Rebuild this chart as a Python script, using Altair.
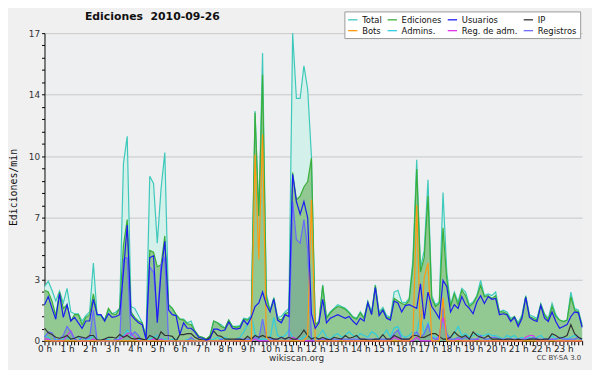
import altair as alt
import pandas as pd

# 10-minute samples, 144 per series (00:00 .. 23:50)
total = [
    3.0, 3.3, 2.8, 2.2, 2.75, 2.1, 2.9, 1.6, 1.5, 1.5, 1.1, 1.4,
    1.6, 4.3, 1.4, 1.4, 1.2, 1.7, 1.5, 1.6, 1.8, 9.8, 11.3, 1.9,
    1.8, 1.4, 1.0, 0.2, 9.1, 8.7, 5.4, 8.4, 10.4, 2.0, 1.8, 1.45,
    1.2, 1.2, 1.0, 1.1, 0.55, 0.27, 0.2, 0.1, 0.27, 1.1, 1.0, 0.9,
    0.7, 1.15, 0.8, 0.8, 0.85, 1.25, 1.2, 1.4, 12.7, 6.9, 15.9, 2.6,
    1.7, 2.4, 1.3, 1.35, 1.6, 1.8, 17.0, 13.4, 13.4, 15.2, 13.9, 10.2,
    0.9, 1.1, 3.1, 1.3, 1.6, 1.8, 2.0, 1.9, 1.8, 1.6, 1.35, 1.25,
    1.6, 1.3, 2.2, 1.6, 3.1, 1.6, 1.85, 1.4, 1.3, 2.7, 2.8, 2.15,
    2.1, 2.35, 4.5, 10.0, 4.0, 5.0, 8.9, 2.5, 2.0, 2.15, 8.2, 3.8,
    2.0, 2.7, 2.15, 2.9, 2.7, 2.0, 2.15, 2.5, 3.35, 2.5, 2.6, 2.5,
    2.7, 1.6, 1.7, 1.6, 1.25, 1.35, 1.0, 1.45, 2.5, 1.45, 1.35, 1.25,
    2.07, 1.5, 1.25, 2.07, 1.45, 1.15, 1.07, 1.15, 2.7, 1.8, 1.7, 0.9,
]
ediciones = [
    2.8, 2.7, 2.2, 1.4, 2.7, 1.8, 2.0, 1.1, 1.45, 1.45, 0.9, 1.3,
    1.45, 2.6, 1.45, 1.45, 1.1, 1.8, 1.5, 1.45, 1.8, 5.3, 6.7, 1.6,
    1.3, 1.1, 1.0, 0.2, 5.0, 4.9, 4.1, 4.2, 5.8, 2.0, 1.8, 1.45,
    1.2, 1.15, 0.95, 0.9, 0.55, 0.27, 0.2, 0.1, 0.27, 1.1, 1.0, 0.8,
    0.7, 1.15, 0.8, 0.75, 0.8, 1.2, 1.15, 1.35, 12.6, 6.9, 14.7, 2.4,
    1.65, 2.35, 1.25, 1.15, 1.5, 1.6, 9.3, 7.8, 8.0, 8.5, 8.8, 10.1,
    0.9, 1.05, 3.05, 1.25, 1.55, 1.75, 1.9, 1.85, 1.75, 1.55, 1.3, 1.2,
    1.55, 1.25, 2.15, 1.5, 3.05, 1.5, 1.75, 1.3, 1.25, 2.35, 2.2, 2.07,
    2.0, 2.25, 4.2, 9.5, 3.8, 4.6, 8.0, 2.35, 1.9, 2.07, 6.25, 3.4,
    1.9, 2.6, 2.0, 2.8, 2.5, 1.9, 2.07, 2.45, 3.07, 2.45, 2.5, 2.35,
    2.5, 1.6, 1.6, 1.5, 1.15, 1.35, 0.9, 1.35, 2.45, 1.35, 1.25, 1.15,
    2.0, 1.45, 1.15, 1.9, 1.35, 1.15, 1.07, 1.15, 2.45, 1.7, 1.6, 0.8,
]
usuarios = [
    2.0, 2.45, 1.8, 1.2, 2.6, 1.3, 2.0, 1.1, 1.3, 1.0, 0.7, 1.1,
    1.1, 2.3, 1.45, 1.45, 1.1, 1.5, 1.3, 1.35, 1.45, 3.8, 6.4, 1.45,
    1.2, 1.0, 0.9, 0.1, 4.6, 4.7, 1.0, 3.8, 5.5, 1.7, 1.45, 1.4,
    0.35, 1.0, 0.7, 0.7, 0.5, 0.2, 0.15, 0.05, 0.1, 0.65, 0.65, 0.55,
    0.6, 1.05, 0.7, 0.65, 0.7, 1.15, 0.9, 1.3, 1.9, 2.1, 2.7, 2.0,
    1.6, 2.3, 1.15, 1.0, 1.45, 1.35, 9.2, 7.7, 7.0, 7.7, 6.8, 1.5,
    0.7, 1.0, 2.3, 1.0, 1.25, 1.35, 1.45, 1.35, 1.25, 1.35, 1.1, 0.9,
    1.25, 1.1, 2.1, 1.45, 2.95, 1.4, 1.7, 1.25, 1.15, 2.2, 2.1, 1.6,
    1.95, 2.0, 1.9, 1.8, 3.15, 1.2, 2.7, 1.9, 1.6, 1.25, 3.35, 3.0,
    1.6, 2.0, 1.8, 2.45, 2.0, 1.8, 1.5, 2.15, 2.5, 2.07, 2.45, 2.3,
    2.35, 1.45, 1.5, 1.45, 1.07, 1.3, 0.8, 1.25, 2.4, 1.3, 1.15, 1.07,
    1.95, 1.25, 1.07, 1.6, 1.07, 0.7, 0.8, 0.9, 1.35, 1.6, 1.55, 0.75,
]
ip = [
    0.7, 0.45, 0.35, 0.2, 0.15, 0.2, 0.3, 0.1, 0.15, 0.25, 0.2, 0.15,
    0.3, 0.3, 0.05, 0.05, 0.1, 0.2, 0.2, 0.15, 0.35, 0.2, 0.3, 0.15,
    0.1, 0.15, 0.1, 0.05, 0.3, 0.2, 0.05, 0.5, 0.3, 0.3, 0.25, 0.0,
    0.35, 0.35, 0.4, 0.4, 0.2, 0.1, 0.05, 0.05, 0.2, 0.55, 0.3, 0.25,
    0.1, 0.1, 0.1, 0.1, 0.1, 0.05, 0.25, 0.1, 0.3, 0.2, 0.3, 0.2,
    0.2, 0.1, 0.1, 0.2, 0.1, 0.2, 0.1, 0.1, 0.3, 0.6, 0.3, 0.1,
    0.2, 0.1, 0.2, 0.1, 0.05, 0.2, 0.15, 0.1, 0.3, 0.15, 0.2, 0.3,
    0.1, 0.1, 0.05, 0.05, 0.1, 0.1, 0.35, 0.1, 0.1, 0.3, 0.2, 0.1,
    0.1, 0.1, 0.3, 0.3, 0.2, 0.2, 0.3, 0.4, 0.4, 0.25, 0.1, 0.1,
    0.2, 0.5, 0.3, 0.2, 0.3, 0.1, 0.5, 0.3, 0.2, 0.15, 0.3, 0.1,
    0.1, 0.1, 0.05, 0.1, 0.1, 0.05, 0.1, 0.05, 0.05, 0.1, 0.1, 0.1,
    0.05, 0.1, 0.1, 0.4, 0.3, 0.15, 0.2, 0.3, 0.9, 0.4, 0.2, 0.1,
]
bots = [
    0, 0, 0, 0, 0, 0, 0, 0, 0, 0, 0, 0,
    0, 0, 0, 0, 0, 0, 0, 0, 0, 0, 0, 0,
    0, 0, 0, 0, 0, 0, 0, 0, 0, 0, 0, 0,
    0, 0, 0, 0, 0, 0, 0, 0, 0, 0, 0, 0,
    0, 0, 0, 0, 0, 0, 0, 0, 10.3, 4.5, 11.4, 0.2,
    0, 0, 0, 0, 0, 0, 0, 0, 0, 0, 0.3, 7.8,
    0, 0, 0, 0, 0, 0, 0, 0, 0, 0, 0, 0,
    0, 0, 0, 0, 0, 0, 0, 0, 0, 0, 0, 0,
    0, 0, 0.2, 7.5, 0.2, 3.5, 4.3, 0, 0, 0, 2.4, 0,
    0, 0, 0, 0, 0, 0, 0, 0, 0, 0, 0, 0,
    0, 0, 0, 0, 0, 0, 0, 0, 0, 0, 0, 0,
    0, 0, 0, 0, 0, 0, 0, 0, 0, 0, 0, 0,
]
admins = [
    0.3, 0.2, 0.0, 0.1, 0.0, 0.1, 0.2, 0.1, 0.2, 0.2, 0.0, 0.1,
    0.1, 0.3, 0.1, 0.0, 0.0, 0.1, 0.0, 0.0, 0.2, 0.3, 0.6, 0.3,
    0.2, 0.1, 0.0, 0.0, 0.1, 0.2, 0.3, 0.1, 0.1, 0.0, 0.1, 0.1,
    0.0, 0.0, 0.1, 0.0, 0.0, 0.0, 0.1, 0.0, 0.0, 0.1, 0.2, 0.1,
    0.2, 0.1, 0.0, 0.1, 0.2, 0.5, 0.9, 1.4, 0.4, 0.1, 0.1, 0.1,
    0.1, 1.3, 0.3, 0.2, 0.3, 0.6, 0.2, 0.1, 0.1, 0.2, 0.3, 0.2,
    0.1, 0.3, 0.6, 0.2, 0.1, 0.3, 0.4, 0.2, 0.3, 0.5, 0.3, 0.2,
    0.4, 0.3, 0.2, 0.5, 0.4, 0.1, 0.3, 0.6, 0.2, 0.7, 0.8, 0.3,
    0.2, 0.3, 0.5, 0.4, 1.5, 0.4, 1.0, 0.3, 0.2, 0.2, 1.2, 0.3,
    0.2, 0.4, 0.8, 0.3, 0.4, 0.2, 0.3, 0.4, 0.3, 0.3, 0.4, 0.3,
    0.3, 0.2, 0.1, 0.3, 0.2, 0.3, 0.1, 0.2, 0.1, 0.2, 0.1, 0.2,
    0.3, 0.1, 0.1, 0.3, 0.1, 0.2, 0.2, 0.1, 0.2, 0.3, 0.2, 0.1,
]
reg_adm = [
    0.1, 0.1, 0, 0, 0, 0, 0.3, 0.55, 0.1, 0, 0, 0,
    0, 0.1, 0, 0, 0, 0, 0, 0, 0.1, 0.2, 0.4, 0.45,
    0.2, 0, 0, 0, 0, 0.1, 0, 0.1, 0, 0, 0, 0,
    0, 0, 0, 0, 0, 0, 0, 0, 0, 0, 0, 0,
    0, 0, 0, 0, 0, 0, 0, 0, 0.1, 0, 0, 0,
    0, 0, 0, 0, 0, 0, 0.2, 0.1, 0, 0, 0, 0,
    0, 0, 0.1, 0, 0, 0, 0, 0.1, 0, 0, 0, 0,
    0, 0, 0, 0, 0, 0, 0, 0, 0, 0.2, 0.1, 0,
    0, 0, 0, 0.2, 0, 0, 0, 0, 0, 0.3, 1.3, 0.2,
    0, 0, 0.1, 0, 0, 0, 0, 0.1, 0, 0, 0, 0,
    0, 0, 0, 0, 0, 0, 0, 0, 0.2, 0.3, 0.3, 0,
    0, 0, 0, 0.1, 0, 0, 0, 0, 0, 0, 0, 0,
]
registros = [
    0.2, 0.5, 0.45, 0.0, 0.1, 0.3, 0.8, 0.5, 0.1, 0.0, 0.2, 0.1,
    0.2, 1.7, 0.0, 0.0, 0.1, 0.0, 0.0, 0.1, 0.0, 4.5, 4.6, 0.3,
    0.5, 0.3, 0.0, 0.0, 4.1, 3.8, 1.3, 4.2, 4.6, 0.0, 0.0, 0.0,
    0.0, 0.0, 0.0, 0.2, 0.0, 0.0, 0.0, 0.0, 0.0, 0.0, 0.0, 0.1,
    0.0, 0.0, 0.0, 0.1, 0.1, 0.1, 0.1, 0.1, 0.2, 0.1, 1.2, 0.2,
    0.1, 0.1, 0.1, 0.2, 0.1, 0.2, 7.7, 5.6, 5.4, 6.7, 5.1, 0.1,
    0.0, 0.1, 0.1, 0.1, 0.1, 0.1, 0.1, 0.1, 0.1, 0.1, 0.1, 0.1,
    0.1, 0.1, 0.1, 0.1, 0.1, 0.1, 0.1, 0.1, 0.1, 0.4, 0.6, 0.1,
    0.1, 0.1, 0.3, 0.5, 0.2, 0.4, 0.9, 0.2, 0.1, 0.1, 1.9, 0.4,
    0.1, 0.1, 0.2, 0.1, 0.2, 0.1, 0.1, 0.1, 0.3, 0.1, 0.1, 0.2,
    0.2, 0.1, 0.1, 0.1, 0.1, 0.1, 0.1, 0.1, 0.1, 0.1, 0.2, 0.1,
    0.1, 0.1, 0.1, 0.1, 0.1, 0.2, 0.1, 0.1, 0.1, 0.1, 0.2, 0.0,
]

# legend is filled column by column (2 rows x 4 columns)
legend_names = ["Total", "Bots", "Ediciones", "Admins.",
                "Usuarios", "Reg. de adm.", "IP", "Registros"]
legend_colors = ["#3cc9bb", "#ff9a10", "#3aae3a", "#30cce0",
                 "#1c1cf0", "#dd33ee", "#333333", "#6a6aff"]
# drawing order (bottom -> top)
draw_order = ["Total", "Ediciones", "Admins.", "Reg. de adm.", "Registros",
              "IP", "Bots", "Usuarios"]

hours = [i / 6 for i in range(144)]
series = {"Total": total, "Ediciones": ediciones, "Usuarios": usuarios,
          "IP": ip, "Bots": bots, "Admins.": admins,
          "Reg. de adm.": reg_adm, "Registros": registros}

wide = pd.DataFrame({"h": hours, "T": total, "E": ediciones, "G": registros})
long_rows = []
for k, name in enumerate(draw_order):
    for h, v in zip(hours, series[name]):
        long_rows.append({"h": h, "v": v, "s": name, "o": k})
long = pd.DataFrame(long_rows)

x_ticks = hours
y_ticks = [round(k * 0.68, 2) for k in range(26)]

FONT = "DejaVu Sans"
MAJOR = "abs(datum.value/3.4 - round(datum.value/3.4)) < 0.01"

x_axis = alt.Axis(
    values=x_ticks,
    labelExpr="datum.value % 1 == 0 ? datum.value + ' h' : ''",
    labelOverlap=False, labelBound=False, labelFlush=False,
    labelFont=FONT, labelFontSize=9, labelColor="#222", labelPadding=0,
    tickSize=4, tickColor="#000", domainColor="#000", grid=False,
    title="wikiscan.org", titleFont=FONT, titleFontSize=9,
    titleFontWeight="normal", titleColor="#333",
    titleX=255, titleY=17, titleBaseline="middle", titleAnchor="middle",
)
y_axis = alt.Axis(
    values=y_ticks,
    labelExpr=MAJOR + " ? format(datum.value, '.0f') : ''",
    labelOverlap=False, labelBound=False, labelFlush=False,
    labelFont=FONT, labelFontSize=9, labelColor="#333", labelPadding=2,
    tickSize=3, tickColor="#000", domainColor="#000",
    grid=True, gridColor="#c8c8c8",
    gridOpacity=alt.condition(MAJOR, alt.value(1), alt.value(0)),
    title="Ediciones/min", titleFont="DejaVu Sans Mono", titleFontSize=10,
    titleFontWeight="normal", titleColor="#111",
    titleX=-31, titleY=156, titleAngle=270, titleBaseline="middle", titleAlign="center",
)

xs = alt.Scale(domain=[0, 143 / 6], nice=False, zero=False)
ys = alt.Scale(domain=[0, 17], nice=False)

X = alt.X("h:Q", scale=xs, axis=x_axis)

def Y(field):
    return alt.Y(field, type="quantitative", scale=ys, axis=y_axis)

area_total = alt.Chart(wide).mark_area(color="#d4f0ea", opacity=1).encode(
    x=X, y=Y("T"))
area_edic = alt.Chart(wide).mark_area(color="#92c892", opacity=1).encode(
    x=X, y=Y("E"))
area_reg = alt.Chart(wide).mark_area(color="#3a6a9a", opacity=0.22).encode(
    x=X, y=Y("G"))

lines = alt.Chart(long).mark_line(strokeWidth=1.2).encode(
    x=X,
    y=Y("v"),
    color=alt.Color(
        "s:N",
        scale=alt.Scale(domain=legend_names, range=legend_colors),
        legend=alt.Legend(
            orient="none", legendX=304, legendY=-22, columns=4,
            gridAlign="each",
            symbolType="stroke", symbolSize=90, symbolStrokeWidth=1.3,
            title=None, fillColor="white", strokeColor="#999",
            padding=3, rowPadding=1, columnPadding=3, labelOffset=4,
            labelFont=FONT, labelFontSize=8.5, labelColor="#111",
        ),
    ),
    order=alt.Order("o:Q"),
    detail="s:N",
)

credit = alt.Chart(pd.DataFrame({"t": ["CC BY-SA 3.0"]})).mark_text(
    align="right", baseline="middle", font=FONT, fontSize=7, color="#444"
).encode(x=alt.value(544), y=alt.value(329), text="t:N")

chart = alt.layer(area_total, area_edic, area_reg, lines, credit).properties(
    width=545, height=312,
    autosize=alt.AutoSizeParams(type="none"),
    padding={"left": 37, "top": 23, "right": 10, "bottom": 27},
    background="#f0f0f0",
    title=alt.TitleParams(
        "Ediciones\u00a0 2010-09-26", anchor="start", dx=77, dy=20, offset=9,
        font=FONT, fontSize=11, fontWeight="bold", color="#111"),
).configure_view(stroke=None, fill="#eeeff0")

chart.save("out.html", embed_options={"renderer": "svg", "actions": False})
